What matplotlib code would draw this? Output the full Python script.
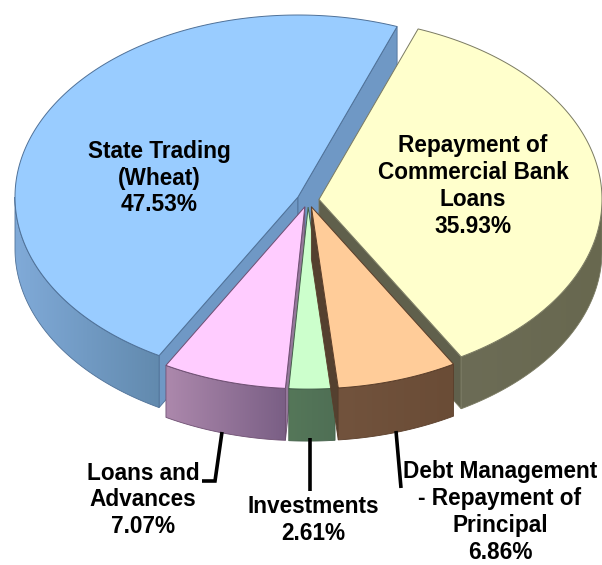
import numpy as np
import matplotlib
matplotlib.use("Agg")
import matplotlib.pyplot as plt
from matplotlib.colors import to_rgb
from matplotlib.patches import Polygon

# --- data (clockwise from the top-right boundary) ---
labels = ["Repayment of\nCommercial Bank\nLoans",
          "Debt Management\n- Repayment of\nPrincipal",
          "Investments",
          "Loans and\nAdvances",
          "State Trading\n(Wheat)"]
values = [35.93, 6.86, 2.61, 7.07, 47.53]

# --- styles ---
top_colors = ["#FFFFCC", "#FFCC99", "#CCFFCC", "#FFCCFF", "#99CCFF"]
side_left = ["#6C6C56", "#72533D", "#557759", "#AC88AC", "#80AAD8"]
side_right = ["#68684F", "#6A4C36", "#4F6F55", "#7A5F85", "#628AAE"]
radial_colors = ["#60604C", "#54402F", "#4F6F55", "#94789A", "#6F98C5"]
edge_colors = ["#7A7A62", "#5A3E2A", "#44604A", "#6E4F72", "#4F7198"]
draw_order = [4, 0, 3, 2, 1]
label_xy = [(473, 186), (500, 512), (313, 520), (143, 500), (159, 178)]

START = 20.5      # degrees clockwise from top
CX, CY = 308, 200 # pie centre, pixels
A, B = 283, 182   # ellipse radii
DEPTH = 52
EXPLODE = 0.039

fig = plt.figure(figsize=(6.02, 5.65), dpi=100)
ax = fig.add_axes([0, 0, 1, 1])
ax.axis("off")

shares = np.array(values) / sum(values) * 360
ends = START + np.cumsum(shares)
starts = ends - shares


def pt(ox, oy, deg):
    r = np.radians(deg)
    return ox + A * np.sin(r), oy - B * np.cos(r)


for i in draw_order:
    z = 2 + draw_order.index(i)
    s, e = starts[i], ends[i]
    mid = np.radians((s + e) / 2)
    ox = CX + EXPLODE * A * np.sin(mid)
    oy = CY - EXPLODE * B * np.cos(mid)

    # radial walls that face the viewer
    for ang, normal in ((s, s - 90), (e, e + 90)):
        if -np.cos(np.radians(normal)) > 0:
            x, y = pt(ox, oy, ang)
            ax.add_patch(Polygon([(ox, oy), (x, y), (x, y + DEPTH), (ox, oy + DEPTH)],
                                 closed=True, fc=radial_colors[i], ec=edge_colors[i],
                                 lw=0.6, zorder=z))

    # outer wall: only the part on the near half of the pie
    lo, hi = None, None
    for k in (-360, 0, 360):
        a0, a1 = max(s, 90 + k), min(e, 270 + k)
        if a1 > a0:
            lo, hi = a0, a1
    if lo is not None:
        xs, ys = pt(ox, oy, np.linspace(lo, hi, 120))
        poly = np.column_stack([np.r_[xs, xs[::-1]], np.r_[ys, ys[::-1] + DEPTH]])
        wall = Polygon(poly, closed=True, fc="none", ec=edge_colors[i], lw=0.6, zorder=z + 0.2)
        ax.add_patch(wall)
        c0, c1 = np.array(to_rgb(side_left[i])), np.array(to_rgb(side_right[i]))
        grad = np.linspace(0, 1, 64)[None, :, None] * (c1 - c0) + c0
        im = ax.imshow(grad, extent=(xs.min(), xs.max(), ys.max() + DEPTH, ys.min()),
                       aspect="auto", interpolation="bilinear", zorder=z + 0.1)
        im.set_clip_path(wall)

    # top face
    xs, ys = pt(ox, oy, np.linspace(s, e, 200))
    ax.add_patch(Polygon(np.column_stack([np.r_[ox, xs], np.r_[oy, ys]]), closed=True,
                         fc=top_colors[i], ec=edge_colors[i], lw=0.7, zorder=z + 0.5))

ax.set_xlim(0, 602)
ax.set_ylim(565, 0)

# leader lines
leaders = [([222, 215, 202], [432, 481, 481]),
           ([310, 310], [438, 491]),
           ([396, 401], [431, 488])]
for lx, ly in leaders:
    ax.plot(lx, ly, color="black", lw=2.6, solid_joinstyle="miter",
            solid_capstyle="butt", zorder=20)

for i, (x, y) in enumerate(label_xy):
    ax.text(x, y, f"{labels[i]}\n{values[i]:.2f}%", ha="center", va="center",
            multialignment="center", family="Liberation Sans", fontweight="bold",
            fontsize=16.3, linespacing=1.22, color="black", zorder=30)

fig.savefig("out.png", dpi=100, facecolor="white")
